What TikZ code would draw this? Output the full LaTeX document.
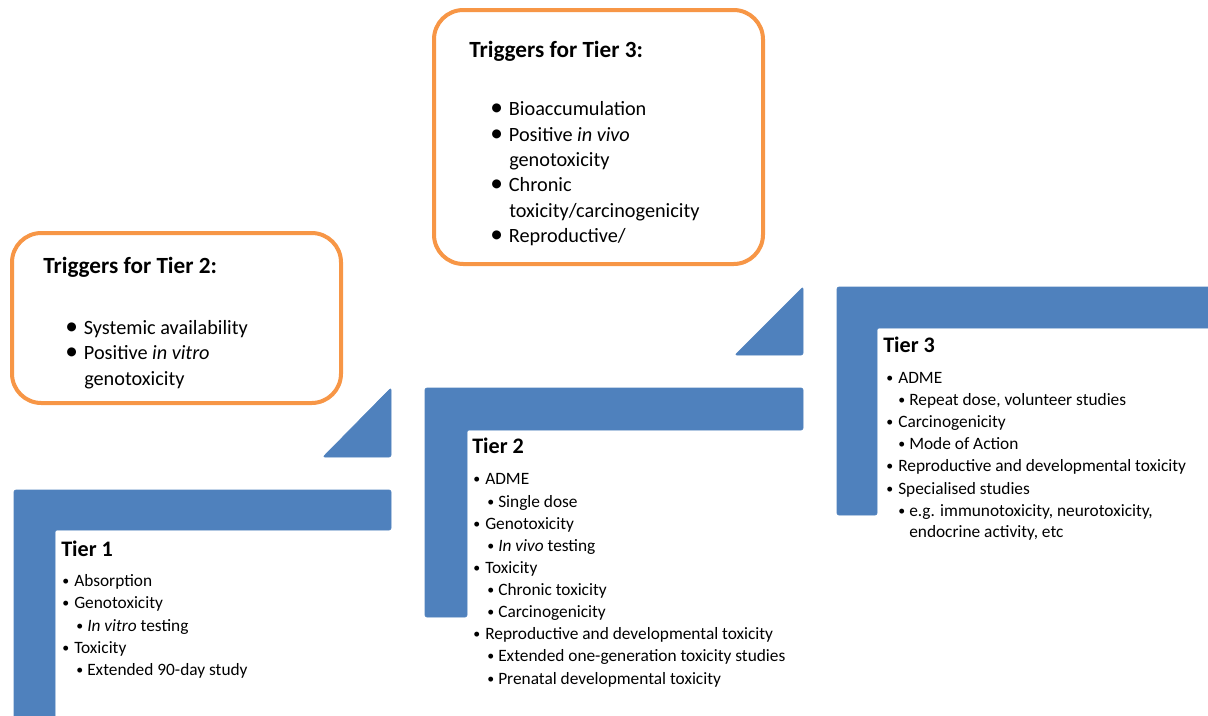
\documentclass[tikz,border=0pt]{standalone}
\usepackage{fontspec}
\setmainfont{Carlito}
\definecolor{tblue}{HTML}{4F81BD}
\definecolor{torange}{HTML}{F79646}
\newcommand\bA{\makebox[9pt][l]{\raisebox{0.3pt}{\scalebox{0.8}{\textbullet}}}}
\newcommand\bB{\makebox[8.25pt][l]{\raisebox{0.3pt}{\scalebox{0.8}{\textbullet}}}}
\newcommand\bT{\makebox[14pt][l]{\scalebox{1.25}{\textbullet}}}
\tikzset{
 lshape/.style={fill=tblue, draw=tblue, line width=0.5pt, rounded corners=1.5pt},
 trig/.style={draw=torange, line width=3pt, rounded corners=22pt, fill=white},
 tierhead/.style={anchor=base west, inner sep=0, font=\fontsize{16.6}{20}\selectfont\bfseries},
 tierline/.style={anchor=base west, inner sep=0, font=\fontsize{13}{15}\selectfont},
 trighead/.style={anchor=base west, inner sep=0, font=\fontsize{17.4}{20}\selectfont\bfseries},
 trigline/.style={anchor=base west, inner sep=0, font=\fontsize{15.2}{18}\selectfont},
}
\begin{document}
\begin{tikzpicture}[x=0.75pt,y=-0.75pt]
\useasboundingbox (0,0) rectangle (1208,715);
\clip (0,0) rectangle (1208,715);
% orange trigger boxes
\draw[trig] (12,233) rectangle (341,403);
\draw[trig] (434,10) rectangle (763,264);
% blue L shapes
\fill[lshape] (14,725) -- (14,490) -- (391,490) -- (391,530) -- (55,530) -- (55,725) -- cycle;
\fill[lshape] (425,617) -- (425,388) -- (803,388) -- (803,430) -- (467,430) -- (467,617) -- cycle;
\fill[lshape] (837,515) -- (837,287) -- (1220,287) -- (1220,328) -- (877,328) -- (877,515) -- cycle;
% triangles
\fill[lshape] (391,388) -- (391,457) -- (323,457) -- cycle;
\fill[lshape] (803,287) -- (803,355) -- (735,355) -- cycle;
% Triggers for Tier 2
\node[trighead] (g2h) at (43,273) {Triggers for Tier 2:};
\node[trigline] (g2a) at (65,334) {\bT Systemic availability};
\node[trigline] (g2b) at (65,359) {\bT Positive \textit{in vitro}};
\node[trigline] (g2c) at (84,385) {genotoxicity};
% Triggers for Tier 3
\node[trighead] (g3h) at (469,57) {Triggers for Tier 3:};
\node[trigline] (g3a) at (490,115) {\bT Bioaccumulation};
\node[trigline] (g3b) at (490,141) {\bT Positive \textit{in vivo}};
\node[trigline] (g3c) at (509,166) {genotoxicity};
\node[trigline] (g3d) at (490,191) {\bT Chronic};
\node[trigline] (g3e) at (509,217) {toxicity/carcinogenicity};
\node[trigline] (g3f) at (490,242) {\bT Reproductive/};
% Tier 1
\node[tierhead] (t1h) at (61,556) {Tier 1};
\node[tierline] (t1a) at (62,586) {\bA Absorption};
\node[tierline] (t1b) at (62,608) {\bA Genotoxicity};
\node[tierline] (t1c) at (76,631) {\bB \textit{In vitro} testing};
\node[tierline] (t1d) at (62,653) {\bA Toxicity};
\node[tierline] (t1e) at (76,675) {\bB Extended 90-day study};
% Tier 2
\node[tierhead] (t2h) at (472,453) {Tier 2};
\node[tierline] (t2a) at (473,484) {\bA ADME};
\node[tierline] (t2b) at (487,507) {\bB Single dose};
\node[tierline] (t2c) at (473,529) {\bA Genotoxicity};
\node[tierline] (t2d) at (487,551) {\bB \textit{In vivo} testing};
\node[tierline] (t2e) at (473,573) {\bA Toxicity};
\node[tierline] (t2f) at (487,595) {\bB Chronic toxicity};
\node[tierline] (t2g) at (487,617) {\bB Carcinogenicity};
\node[tierline] (t2h2) at (473,639) {\bA Reproductive and developmental toxicity};
\node[tierline] (t2i) at (487,661) {\bB Extended one-generation toxicity studies};
\node[tierline] (t2j) at (487,684) {\bB Prenatal developmental toxicity};
% Tier 3
\node[tierhead] (t3h) at (883,352) {Tier 3};
\node[tierline] (t3a) at (886,383) {\bA ADME};
\node[tierline] (t3b) at (898,405) {\bB Repeat dose, volunteer studies};
\node[tierline] (t3c) at (886,427) {\bA Carcinogenicity};
\node[tierline] (t3d) at (898,449) {\bB Mode of Action};
\node[tierline] (t3e) at (886,471) {\bA Reproductive and developmental toxicity};
\node[tierline] (t3f) at (886,494) {\bA Specialised studies};
\node[tierline] (t3g) at (898,516) {\bB e.g. immunotoxicity, neurotoxicity,};
\node[tierline] (t3h2) at (909,537) {endocrine activity, etc};
\end{tikzpicture}
\end{document}
